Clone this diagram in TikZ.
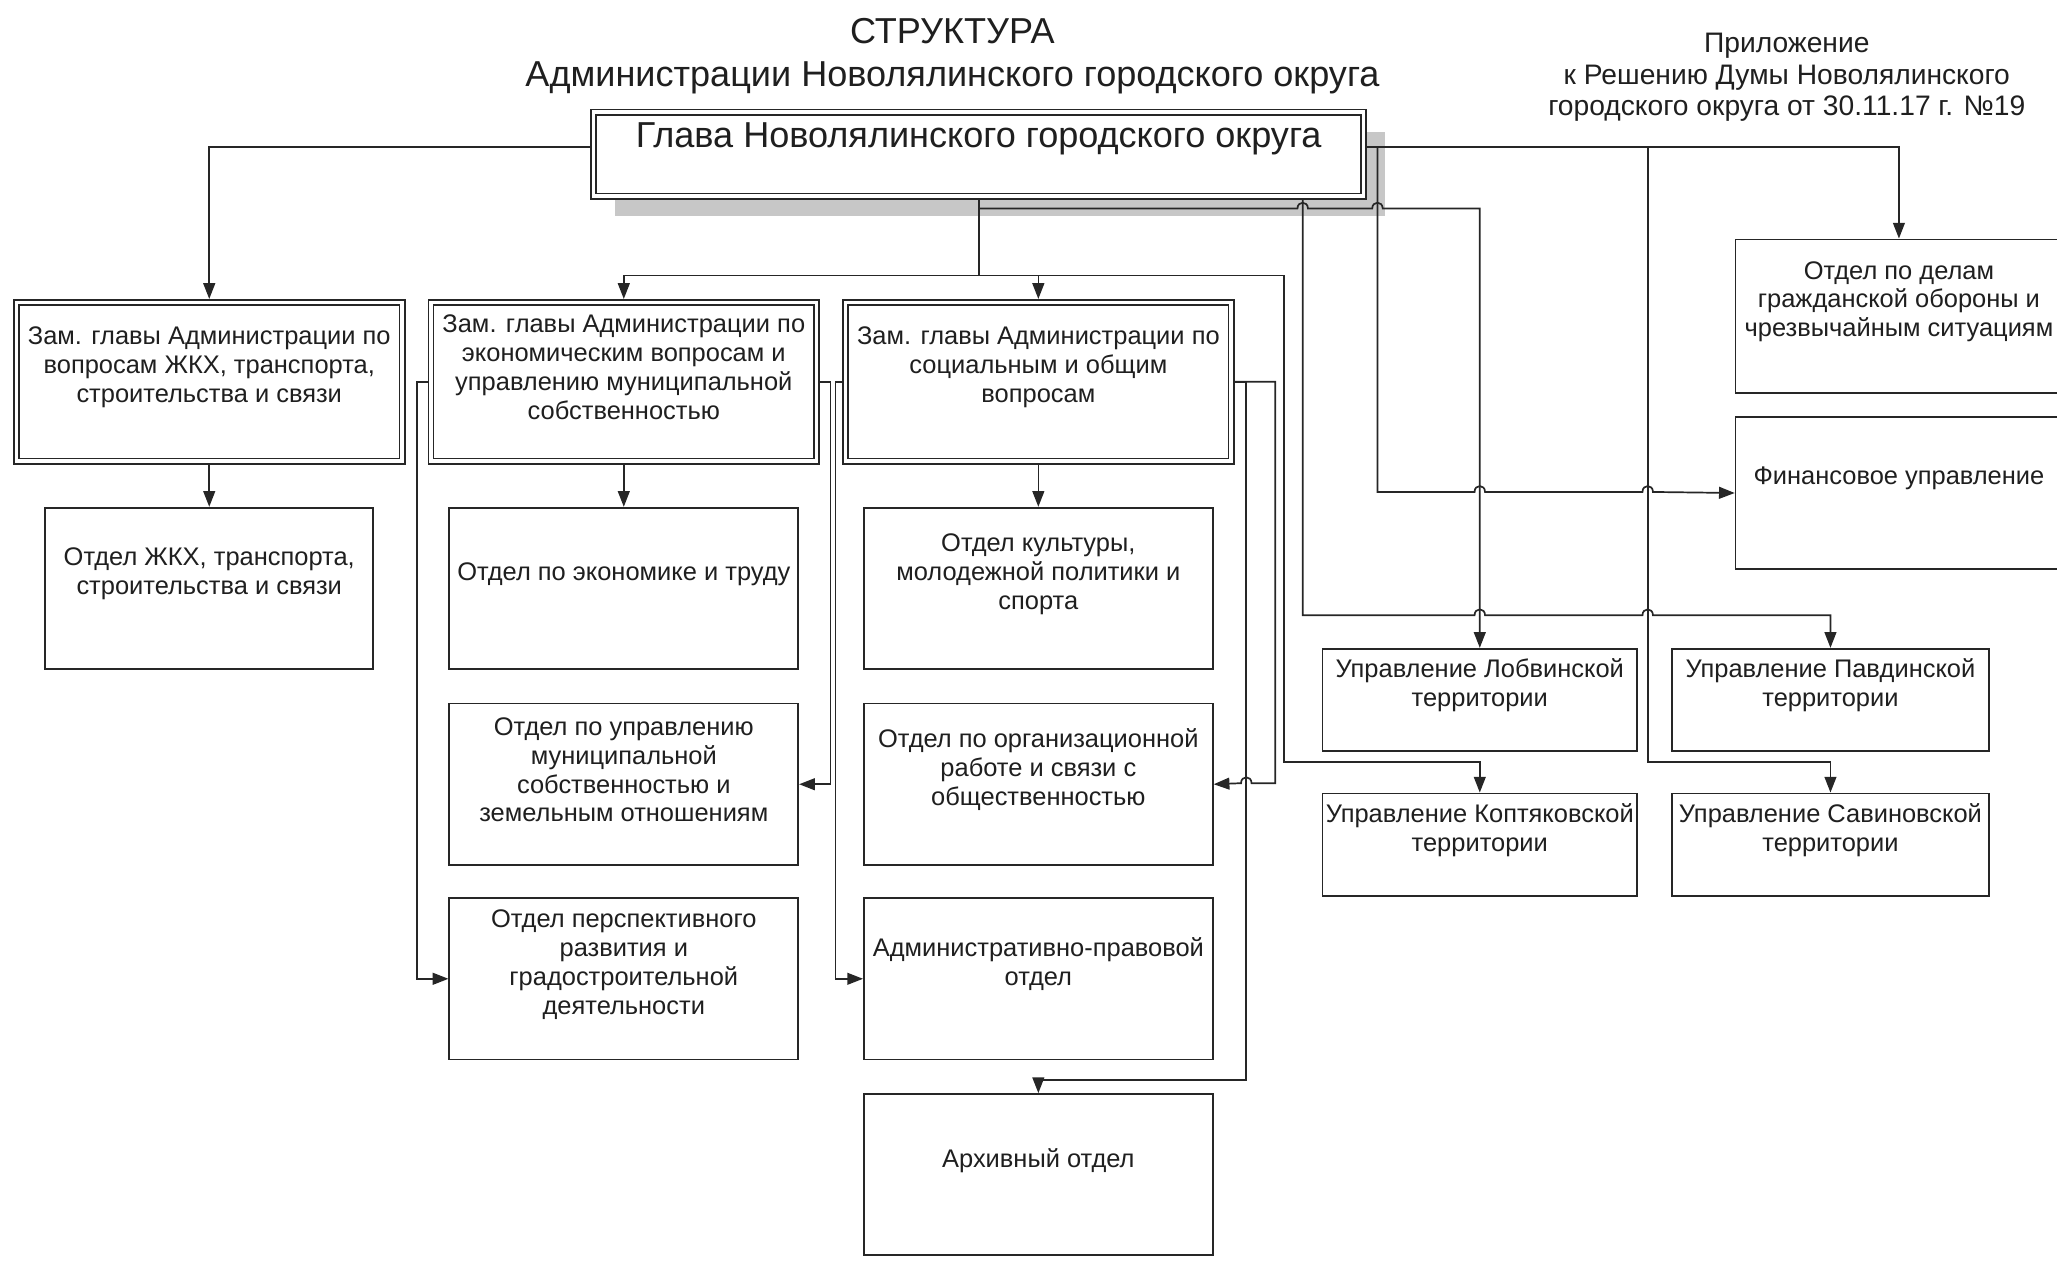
\documentclass[tikz,border=0pt]{standalone}
\usepackage{fontspec}
\setmainfont{Liberation Sans}
\usetikzlibrary{positioning, arrows.meta, shadows}

\newcommand{\hopr}[2]{-- (#1-4,#2) .. controls (#1-4,#2-6) and (#1+4,#2-6) .. (#1+4,#2)}
\newcommand{\hopl}[2]{-- (#1+4,#2) .. controls (#1+4,#2-6) and (#1-4,#2-6) .. (#1-4,#2)}

\begin{document}
\begin{tikzpicture}[x=1pt, y=-1pt,
    box/.style={draw=black!85, line width=1.3pt, fill=white, inner sep=0pt},
    dept/.style={box, minimum width=266pt, minimum height=123pt},
    zam/.style={box, double=white, double distance=2.6pt, outer sep=2.6pt,
      minimum width=294pt, minimum height=121pt},
    upr/.style={box, minimum width=240pt, minimum height=78pt},
    txt/.style={align=center, font=\fontsize{19.4}{22}\selectfont, text=black!88},
    lbl/.style={label={[txt, yshift=11pt]center:{#1}}},
    conn/.style={draw=black!85, line width=1.3pt, -{Triangle[length=12pt,width=9pt]}}]
  \useasboundingbox (0,0) rectangle (1568,962);

  \node[txt, font=\fontsize{27.5}{33}\selectfont] (title) at (726,43) {СТРУКТУРА\\Администрации Новолялинского городского округа};
  \node[txt, font=\fontsize{21.5}{24}\selectfont] (app) at (1362,59) {Приложение\\к Решению Думы Новолялинского\\городского округа от 30.11.17 г. №19};

  \node[box, double=white, double distance=2.6pt, outer sep=2.6pt,
    minimum width=587pt, minimum height=64pt,
    drop shadow={shadow xshift=16pt, shadow yshift=-15pt, fill=black!22, opacity=1},
    label={[txt, font=\fontsize{27.5}{30}\selectfont, yshift=12pt]center:Глава Новолялинского городского округа}] (Glava) at (746,117.5) {};

  \node[zam, lbl={Зам. главы Администрации по\\вопросам ЖКХ, транспорта,\\строительства и связи}] (ZamZhkh) at (159.5,291) {};
  \node[zam, lbl={Зам. главы Администрации по\\экономическим вопросам и\\управлению муниципальной\\собственностью}] (ZamEcon) at (475.5,291) {};
  \node[zam, lbl={Зам. главы Администрации по\\социальным и общим\\вопросам}] (ZamSoc) at (791.5,291) {};

  \node[dept, minimum width=250pt, lbl={Отдел ЖКХ, транспорта,\\строительства и связи}] (OtdZhkh) at (159.5,448.5) {};

  \node[dept, lbl={Отдел по экономике и труду}] (OtdEcon) at (475.5,448.5) {};
  \node[dept, below=25pt of OtdEcon, lbl={Отдел по управлению\\муниципальной\\собственностью и\\земельным отношениям}] (OtdMun) {};
  \node[dept, below=24pt of OtdMun, lbl={Отдел перспективного\\развития и\\градостроительной\\деятельности}] (OtdPersp) {};

  \node[dept, lbl={Отдел культуры,\\молодежной политики и\\спорта}] (OtdKult) at (791.5,448.5) {};
  \node[dept, below=25pt of OtdKult, lbl={Отдел по организационной\\работе и связи с\\общественностью}] (OtdOrg) {};
  \node[dept, below=24pt of OtdOrg, lbl={Административно-правовой\\отдел}] (OtdAdm) {};
  \node[dept, below=25pt of OtdAdm, lbl={Архивный отдел}] (OtdArch) {};

  \node[box, minimum width=249pt, minimum height=117pt, lbl={Отдел по делам\\гражданской обороны и\\чрезвычайным ситуациям}] (OtdGO) at (1447.5,241) {};
  \node[box, minimum width=249pt, minimum height=116pt, below=17pt of OtdGO, lbl={Финансовое управление}] (FinUpr) {};

  \node[upr, lbl={Управление Лобвинской\\территории}] (UprLob) at (1128,533.5) {};
  \node[upr, minimum width=242pt, right=25pt of UprLob, lbl={Управление Павдинской\\территории}] (UprPavd) {};
  \node[upr, below=31pt of UprLob, lbl={Управление Коптяковской\\территории}] (UprKopt) {};
  \node[upr, minimum width=242pt, right=25pt of UprKopt, lbl={Управление Савиновской\\территории}] (UprSav) {};

  \coordinate (br) at (746,210);
  \coordinate (lb) at (746,159);
  \coordinate (k1) at (979,210);
  \coordinate (k2) at (979,581);
  \coordinate (pv1) at (993,469);
  \coordinate (fn1) at (1050,112);
  \coordinate (fn2) at (1050,375);
  \coordinate (sv1) at (1256,112);
  \coordinate (sv2) at (1256,581);
  \coordinate (so1) at (972,291);
  \coordinate (so2) at (972,597);
  \coordinate (ar1) at (950,291);
  \coordinate (ar2) at (950,823);

  \draw[conn] ([yshift=5.5pt]Glava.west) -| (ZamZhkh.north);
  \draw[conn] ([yshift=5.5pt]Glava.east) -| (OtdGO.north);
  \draw[conn] (Glava.south) -- (br) -| (ZamEcon.north);
  \draw[conn] (br) -| (ZamSoc.north);
  \draw[conn] (br) -- (k1) -- (k2) -| (UprKopt.north);
  \draw[conn] (lb) \hopr{993}{159} \hopr{1050}{159} -| (UprLob.north);
  \draw[conn] (Glava.south -| pv1) -- (pv1) \hopr{1128}{469} \hopr{1256}{469} -| (UprPavd.north);
  \draw[conn] (fn1) -- (fn2) \hopr{1128}{375} \hopr{1256}{375} -- (FinUpr.west);
  \draw[conn] (sv1) -- (sv2) -| (UprSav.north);

  \draw[conn] (ZamZhkh.south) -- (OtdZhkh.north);
  \draw[conn] (ZamEcon.south) -- (OtdEcon.north);
  \draw[conn] (ZamSoc.south) -- (OtdKult.north);
  \draw[conn] (ZamEcon.west) -- ++(-8,0) |- (OtdPersp.west);
  \draw[conn] (ZamEcon.east) -- ++(8,0) |- (OtdMun.east);
  \draw[conn] (ZamSoc.west) -- ++(-5,0) |- (OtdAdm.west);
  \draw[conn] (ZamSoc.east) -- (so1) -- (so2) \hopl{950}{597} -- (OtdOrg.east);
  \draw[conn] (ZamSoc.east) -- (ar1) -- (ar2) -| (OtdArch.north);
\end{tikzpicture}
\end{document}
